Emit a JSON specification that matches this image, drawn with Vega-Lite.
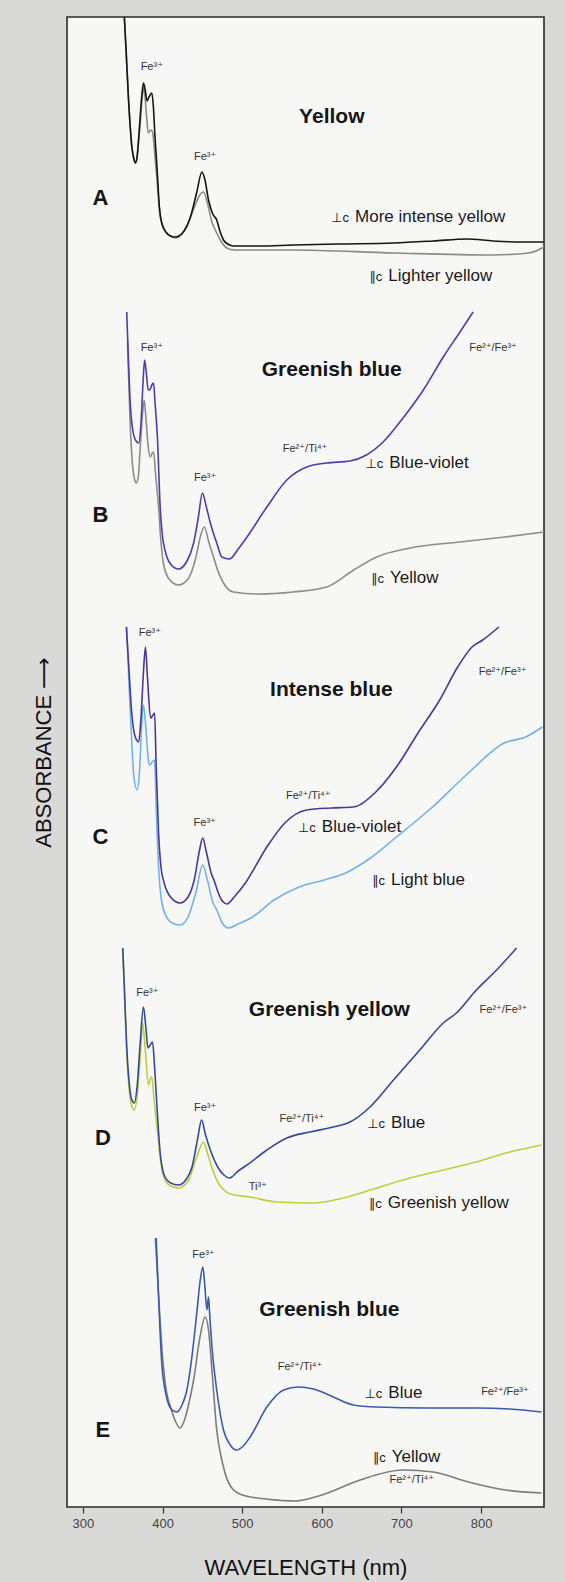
{
  "$schema": "https://vega.github.io/schema/vega-lite/v6.json",
  "width": 477,
  "height": 1490,
  "autosize": {"type": "none"},
  "padding": {"left": 67, "top": 17, "right": 21, "bottom": 75},
  "background": "#d9d9d7",
  "config": {
    "view": {"fill": "#f7f7f5", "stroke": "#2a2a2a", "strokeWidth": 1.6},
    "font": "Liberation Sans, DejaVu Sans, sans-serif"
  },
  "datasets": {
    "spectra": [
      {"series": "A-par", "orientation": "par", "wavelength": 352, "absorbance": 1490},
      {"series": "A-par", "orientation": "par", "wavelength": 354, "absorbance": 1460},
      {"series": "A-par", "orientation": "par", "wavelength": 357.3, "absorbance": 1407},
      {"series": "A-par", "orientation": "par", "wavelength": 361.5, "absorbance": 1360},
      {"series": "A-par", "orientation": "par", "wavelength": 364, "absorbance": 1348},
      {"series": "A-par", "orientation": "par", "wavelength": 366, "absorbance": 1344},
      {"series": "A-par", "orientation": "par", "wavelength": 368, "absorbance": 1350},
      {"series": "A-par", "orientation": "par", "wavelength": 371, "absorbance": 1375},
      {"series": "A-par", "orientation": "par", "wavelength": 374, "absorbance": 1405},
      {"series": "A-par", "orientation": "par", "wavelength": 376, "absorbance": 1419},
      {"series": "A-par", "orientation": "par", "wavelength": 378, "absorbance": 1410},
      {"series": "A-par", "orientation": "par", "wavelength": 380, "absorbance": 1390},
      {"series": "A-par", "orientation": "par", "wavelength": 382, "absorbance": 1374},
      {"series": "A-par", "orientation": "par", "wavelength": 385, "absorbance": 1377},
      {"series": "A-par", "orientation": "par", "wavelength": 387.4, "absorbance": 1375},
      {"series": "A-par", "orientation": "par", "wavelength": 390, "absorbance": 1355},
      {"series": "A-par", "orientation": "par", "wavelength": 393.7, "absorbance": 1320},
      {"series": "A-par", "orientation": "par", "wavelength": 397, "absorbance": 1290},
      {"series": "A-par", "orientation": "par", "wavelength": 402, "absorbance": 1278},
      {"series": "A-par", "orientation": "par", "wavelength": 408, "absorbance": 1272},
      {"series": "A-par", "orientation": "par", "wavelength": 416, "absorbance": 1269},
      {"series": "A-par", "orientation": "par", "wavelength": 430, "absorbance": 1280},
      {"series": "A-par", "orientation": "par", "wavelength": 440, "absorbance": 1300},
      {"series": "A-par", "orientation": "par", "wavelength": 446, "absorbance": 1311},
      {"series": "A-par", "orientation": "par", "wavelength": 451.4, "absorbance": 1315},
      {"series": "A-par", "orientation": "par", "wavelength": 456, "absorbance": 1305},
      {"series": "A-par", "orientation": "par", "wavelength": 462, "absorbance": 1285},
      {"series": "A-par", "orientation": "par", "wavelength": 468, "absorbance": 1274},
      {"series": "A-par", "orientation": "par", "wavelength": 474, "absorbance": 1265},
      {"series": "A-par", "orientation": "par", "wavelength": 480.7, "absorbance": 1259},
      {"series": "A-par", "orientation": "par", "wavelength": 490, "absorbance": 1257},
      {"series": "A-par", "orientation": "par", "wavelength": 564, "absorbance": 1257},
      {"series": "A-par", "orientation": "par", "wavelength": 690, "absorbance": 1254},
      {"series": "A-par", "orientation": "par", "wavelength": 815, "absorbance": 1252},
      {"series": "A-par", "orientation": "par", "wavelength": 860, "absorbance": 1254},
      {"series": "A-par", "orientation": "par", "wavelength": 879, "absorbance": 1260},

      {"series": "A-perp", "orientation": "perp", "wavelength": 352, "absorbance": 1490},
      {"series": "A-perp", "orientation": "perp", "wavelength": 354, "absorbance": 1460},
      {"series": "A-perp", "orientation": "perp", "wavelength": 357.3, "absorbance": 1407},
      {"series": "A-perp", "orientation": "perp", "wavelength": 361.5, "absorbance": 1360},
      {"series": "A-perp", "orientation": "perp", "wavelength": 364, "absorbance": 1348},
      {"series": "A-perp", "orientation": "perp", "wavelength": 366, "absorbance": 1344},
      {"series": "A-perp", "orientation": "perp", "wavelength": 368, "absorbance": 1350},
      {"series": "A-perp", "orientation": "perp", "wavelength": 371, "absorbance": 1380},
      {"series": "A-perp", "orientation": "perp", "wavelength": 374, "absorbance": 1412},
      {"series": "A-perp", "orientation": "perp", "wavelength": 376, "absorbance": 1424},
      {"series": "A-perp", "orientation": "perp", "wavelength": 378, "absorbance": 1418},
      {"series": "A-perp", "orientation": "perp", "wavelength": 380.5, "absorbance": 1406},
      {"series": "A-perp", "orientation": "perp", "wavelength": 383, "absorbance": 1410},
      {"series": "A-perp", "orientation": "perp", "wavelength": 386.5, "absorbance": 1414},
      {"series": "A-perp", "orientation": "perp", "wavelength": 388.5, "absorbance": 1400},
      {"series": "A-perp", "orientation": "perp", "wavelength": 390.5, "absorbance": 1370},
      {"series": "A-perp", "orientation": "perp", "wavelength": 393, "absorbance": 1340},
      {"series": "A-perp", "orientation": "perp", "wavelength": 396, "absorbance": 1300},
      {"series": "A-perp", "orientation": "perp", "wavelength": 399, "absorbance": 1284},
      {"series": "A-perp", "orientation": "perp", "wavelength": 404, "absorbance": 1275},
      {"series": "A-perp", "orientation": "perp", "wavelength": 410, "absorbance": 1271},
      {"series": "A-perp", "orientation": "perp", "wavelength": 416, "absorbance": 1270},
      {"series": "A-perp", "orientation": "perp", "wavelength": 425, "absorbance": 1274},
      {"series": "A-perp", "orientation": "perp", "wavelength": 435, "absorbance": 1290},
      {"series": "A-perp", "orientation": "perp", "wavelength": 443, "absorbance": 1315},
      {"series": "A-perp", "orientation": "perp", "wavelength": 449.4, "absorbance": 1335},
      {"series": "A-perp", "orientation": "perp", "wavelength": 453, "absorbance": 1328},
      {"series": "A-perp", "orientation": "perp", "wavelength": 457.7, "absorbance": 1307},
      {"series": "A-perp", "orientation": "perp", "wavelength": 463, "absorbance": 1293},
      {"series": "A-perp", "orientation": "perp", "wavelength": 468, "absorbance": 1287},
      {"series": "A-perp", "orientation": "perp", "wavelength": 472, "absorbance": 1276},
      {"series": "A-perp", "orientation": "perp", "wavelength": 476.5, "absorbance": 1267},
      {"series": "A-perp", "orientation": "perp", "wavelength": 482, "absorbance": 1263},
      {"series": "A-perp", "orientation": "perp", "wavelength": 489, "absorbance": 1261},
      {"series": "A-perp", "orientation": "perp", "wavelength": 520, "absorbance": 1261},
      {"series": "A-perp", "orientation": "perp", "wavelength": 564, "absorbance": 1262},
      {"series": "A-perp", "orientation": "perp", "wavelength": 620, "absorbance": 1263},
      {"series": "A-perp", "orientation": "perp", "wavelength": 690, "absorbance": 1264},
      {"series": "A-perp", "orientation": "perp", "wavelength": 740, "absorbance": 1266},
      {"series": "A-perp", "orientation": "perp", "wavelength": 782, "absorbance": 1268},
      {"series": "A-perp", "orientation": "perp", "wavelength": 815, "absorbance": 1266},
      {"series": "A-perp", "orientation": "perp", "wavelength": 850, "absorbance": 1265},
      {"series": "A-perp", "orientation": "perp", "wavelength": 879, "absorbance": 1265},

      {"series": "B-par", "orientation": "par", "wavelength": 356, "absorbance": 1165},
      {"series": "B-par", "orientation": "par", "wavelength": 359, "absorbance": 1090},
      {"series": "B-par", "orientation": "par", "wavelength": 362, "absorbance": 1045},
      {"series": "B-par", "orientation": "par", "wavelength": 365, "absorbance": 1027},
      {"series": "B-par", "orientation": "par", "wavelength": 367, "absorbance": 1024},
      {"series": "B-par", "orientation": "par", "wavelength": 369.5, "absorbance": 1030},
      {"series": "B-par", "orientation": "par", "wavelength": 372, "absorbance": 1060},
      {"series": "B-par", "orientation": "par", "wavelength": 375, "absorbance": 1095},
      {"series": "B-par", "orientation": "par", "wavelength": 377, "absorbance": 1107},
      {"series": "B-par", "orientation": "par", "wavelength": 379, "absorbance": 1090},
      {"series": "B-par", "orientation": "par", "wavelength": 382, "absorbance": 1060},
      {"series": "B-par", "orientation": "par", "wavelength": 384.5, "absorbance": 1050},
      {"series": "B-par", "orientation": "par", "wavelength": 387, "absorbance": 1054},
      {"series": "B-par", "orientation": "par", "wavelength": 388.7, "absorbance": 1055},
      {"series": "B-par", "orientation": "par", "wavelength": 391, "absorbance": 1035},
      {"series": "B-par", "orientation": "par", "wavelength": 395, "absorbance": 1000},
      {"series": "B-par", "orientation": "par", "wavelength": 398, "absorbance": 965},
      {"series": "B-par", "orientation": "par", "wavelength": 401, "absorbance": 944},
      {"series": "B-par", "orientation": "par", "wavelength": 408, "absorbance": 928},
      {"series": "B-par", "orientation": "par", "wavelength": 420, "absorbance": 922},
      {"series": "B-par", "orientation": "par", "wavelength": 432, "absorbance": 928},
      {"series": "B-par", "orientation": "par", "wavelength": 442, "absorbance": 950},
      {"series": "B-par", "orientation": "par", "wavelength": 448, "absorbance": 972},
      {"series": "B-par", "orientation": "par", "wavelength": 452.6, "absorbance": 980},
      {"series": "B-par", "orientation": "par", "wavelength": 458, "absorbance": 965},
      {"series": "B-par", "orientation": "par", "wavelength": 464, "absorbance": 950},
      {"series": "B-par", "orientation": "par", "wavelength": 470, "absorbance": 935},
      {"series": "B-par", "orientation": "par", "wavelength": 476.5, "absorbance": 924},
      {"series": "B-par", "orientation": "par", "wavelength": 489, "absorbance": 915},
      {"series": "B-par", "orientation": "par", "wavelength": 520, "absorbance": 913},
      {"series": "B-par", "orientation": "par", "wavelength": 564, "absorbance": 915},
      {"series": "B-par", "orientation": "par", "wavelength": 606, "absorbance": 920},
      {"series": "B-par", "orientation": "par", "wavelength": 640, "absorbance": 937},
      {"series": "B-par", "orientation": "par", "wavelength": 669, "absorbance": 950},
      {"series": "B-par", "orientation": "par", "wavelength": 711, "absorbance": 959},
      {"series": "B-par", "orientation": "par", "wavelength": 773.5, "absorbance": 965},
      {"series": "B-par", "orientation": "par", "wavelength": 830, "absorbance": 970},
      {"series": "B-par", "orientation": "par", "wavelength": 879, "absorbance": 975},

      {"series": "B-perp", "orientation": "perp", "wavelength": 355, "absorbance": 1195},
      {"series": "B-perp", "orientation": "perp", "wavelength": 357, "absorbance": 1150},
      {"series": "B-perp", "orientation": "perp", "wavelength": 359, "absorbance": 1110},
      {"series": "B-perp", "orientation": "perp", "wavelength": 362, "absorbance": 1080},
      {"series": "B-perp", "orientation": "perp", "wavelength": 366, "absorbance": 1067},
      {"series": "B-perp", "orientation": "perp", "wavelength": 370, "absorbance": 1064},
      {"series": "B-perp", "orientation": "perp", "wavelength": 373, "absorbance": 1085},
      {"series": "B-perp", "orientation": "perp", "wavelength": 375.5, "absorbance": 1125},
      {"series": "B-perp", "orientation": "perp", "wavelength": 377.4, "absorbance": 1147},
      {"series": "B-perp", "orientation": "perp", "wavelength": 379.5, "absorbance": 1135},
      {"series": "B-perp", "orientation": "perp", "wavelength": 382, "absorbance": 1117},
      {"series": "B-perp", "orientation": "perp", "wavelength": 384, "absorbance": 1117},
      {"series": "B-perp", "orientation": "perp", "wavelength": 386.5, "absorbance": 1122},
      {"series": "B-perp", "orientation": "perp", "wavelength": 388.7, "absorbance": 1124},
      {"series": "B-perp", "orientation": "perp", "wavelength": 390.5, "absorbance": 1105},
      {"series": "B-perp", "orientation": "perp", "wavelength": 393.7, "absorbance": 1067},
      {"series": "B-perp", "orientation": "perp", "wavelength": 397, "absorbance": 1000},
      {"series": "B-perp", "orientation": "perp", "wavelength": 400, "absorbance": 970},
      {"series": "B-perp", "orientation": "perp", "wavelength": 403, "absorbance": 957},
      {"series": "B-perp", "orientation": "perp", "wavelength": 410, "absorbance": 943},
      {"series": "B-perp", "orientation": "perp", "wavelength": 420, "absorbance": 938},
      {"series": "B-perp", "orientation": "perp", "wavelength": 430, "absorbance": 945},
      {"series": "B-perp", "orientation": "perp", "wavelength": 439, "absorbance": 964},
      {"series": "B-perp", "orientation": "perp", "wavelength": 445, "absorbance": 990},
      {"series": "B-perp", "orientation": "perp", "wavelength": 450, "absorbance": 1014},
      {"series": "B-perp", "orientation": "perp", "wavelength": 455, "absorbance": 1000},
      {"series": "B-perp", "orientation": "perp", "wavelength": 460, "absorbance": 984},
      {"series": "B-perp", "orientation": "perp", "wavelength": 468, "absorbance": 964},
      {"series": "B-perp", "orientation": "perp", "wavelength": 474.5, "absorbance": 950},
      {"series": "B-perp", "orientation": "perp", "wavelength": 484, "absorbance": 948},
      {"series": "B-perp", "orientation": "perp", "wavelength": 495, "absorbance": 958},
      {"series": "B-perp", "orientation": "perp", "wavelength": 506, "absorbance": 970},
      {"series": "B-perp", "orientation": "perp", "wavelength": 531, "absorbance": 1000},
      {"series": "B-perp", "orientation": "perp", "wavelength": 556, "absorbance": 1027},
      {"series": "B-perp", "orientation": "perp", "wavelength": 581, "absorbance": 1040},
      {"series": "B-perp", "orientation": "perp", "wavelength": 606, "absorbance": 1044},
      {"series": "B-perp", "orientation": "perp", "wavelength": 635.5, "absorbance": 1046},
      {"series": "B-perp", "orientation": "perp", "wavelength": 656, "absorbance": 1052},
      {"series": "B-perp", "orientation": "perp", "wavelength": 677, "absorbance": 1065},
      {"series": "B-perp", "orientation": "perp", "wavelength": 702, "absorbance": 1089},
      {"series": "B-perp", "orientation": "perp", "wavelength": 727.5, "absorbance": 1117},
      {"series": "B-perp", "orientation": "perp", "wavelength": 752.5, "absorbance": 1150},
      {"series": "B-perp", "orientation": "perp", "wavelength": 773.5, "absorbance": 1175},
      {"series": "B-perp", "orientation": "perp", "wavelength": 790, "absorbance": 1195},

      {"series": "C-par", "orientation": "par", "wavelength": 355, "absorbance": 880},
      {"series": "C-par", "orientation": "par", "wavelength": 358, "absorbance": 820},
      {"series": "C-par", "orientation": "par", "wavelength": 361, "absorbance": 770},
      {"series": "C-par", "orientation": "par", "wavelength": 364, "absorbance": 730},
      {"series": "C-par", "orientation": "par", "wavelength": 368, "absorbance": 717},
      {"series": "C-par", "orientation": "par", "wavelength": 371, "absorbance": 735},
      {"series": "C-par", "orientation": "par", "wavelength": 374, "absorbance": 785},
      {"series": "C-par", "orientation": "par", "wavelength": 376, "absorbance": 802},
      {"series": "C-par", "orientation": "par", "wavelength": 379, "absorbance": 780},
      {"series": "C-par", "orientation": "par", "wavelength": 382, "absorbance": 748},
      {"series": "C-par", "orientation": "par", "wavelength": 384, "absorbance": 742},
      {"series": "C-par", "orientation": "par", "wavelength": 387, "absorbance": 745},
      {"series": "C-par", "orientation": "par", "wavelength": 390, "absorbance": 747},
      {"series": "C-par", "orientation": "par", "wavelength": 392, "absorbance": 700},
      {"series": "C-par", "orientation": "par", "wavelength": 395, "absorbance": 640},
      {"series": "C-par", "orientation": "par", "wavelength": 399, "absorbance": 605},
      {"series": "C-par", "orientation": "par", "wavelength": 405, "absorbance": 590},
      {"series": "C-par", "orientation": "par", "wavelength": 412, "absorbance": 584},
      {"series": "C-par", "orientation": "par", "wavelength": 422, "absorbance": 582},
      {"series": "C-par", "orientation": "par", "wavelength": 432, "absorbance": 590},
      {"series": "C-par", "orientation": "par", "wavelength": 442, "absorbance": 615},
      {"series": "C-par", "orientation": "par", "wavelength": 450.4, "absorbance": 642},
      {"series": "C-par", "orientation": "par", "wavelength": 456, "absorbance": 628},
      {"series": "C-par", "orientation": "par", "wavelength": 463, "absorbance": 605},
      {"series": "C-par", "orientation": "par", "wavelength": 468, "absorbance": 597},
      {"series": "C-par", "orientation": "par", "wavelength": 475, "absorbance": 584},
      {"series": "C-par", "orientation": "par", "wavelength": 483, "absorbance": 579},
      {"series": "C-par", "orientation": "par", "wavelength": 495, "absorbance": 583},
      {"series": "C-par", "orientation": "par", "wavelength": 513, "absorbance": 590},
      {"series": "C-par", "orientation": "par", "wavelength": 540, "absorbance": 607},
      {"series": "C-par", "orientation": "par", "wavelength": 571.5, "absorbance": 620},
      {"series": "C-par", "orientation": "par", "wavelength": 603, "absorbance": 627},
      {"series": "C-par", "orientation": "par", "wavelength": 630, "absorbance": 634},
      {"series": "C-par", "orientation": "par", "wavelength": 657.5, "absorbance": 647},
      {"series": "C-par", "orientation": "par", "wavelength": 693.7, "absorbance": 670},
      {"series": "C-par", "orientation": "par", "wavelength": 739, "absorbance": 700},
      {"series": "C-par", "orientation": "par", "wavelength": 784, "absorbance": 734},
      {"series": "C-par", "orientation": "par", "wavelength": 829, "absorbance": 764},
      {"series": "C-par", "orientation": "par", "wavelength": 856, "absorbance": 770},
      {"series": "C-par", "orientation": "par", "wavelength": 877, "absorbance": 780},

      {"series": "C-perp", "orientation": "perp", "wavelength": 354.5, "absorbance": 880},
      {"series": "C-perp", "orientation": "perp", "wavelength": 358, "absorbance": 835},
      {"series": "C-perp", "orientation": "perp", "wavelength": 361, "absorbance": 797},
      {"series": "C-perp", "orientation": "perp", "wavelength": 365, "absorbance": 772},
      {"series": "C-perp", "orientation": "perp", "wavelength": 370, "absorbance": 765},
      {"series": "C-perp", "orientation": "perp", "wavelength": 373, "absorbance": 790},
      {"series": "C-perp", "orientation": "perp", "wavelength": 376, "absorbance": 835},
      {"series": "C-perp", "orientation": "perp", "wavelength": 378.5, "absorbance": 860},
      {"series": "C-perp", "orientation": "perp", "wavelength": 381, "absorbance": 830},
      {"series": "C-perp", "orientation": "perp", "wavelength": 385, "absorbance": 789},
      {"series": "C-perp", "orientation": "perp", "wavelength": 388, "absorbance": 792},
      {"series": "C-perp", "orientation": "perp", "wavelength": 390, "absorbance": 794},
      {"series": "C-perp", "orientation": "perp", "wavelength": 392, "absorbance": 740},
      {"series": "C-perp", "orientation": "perp", "wavelength": 395, "absorbance": 674},
      {"series": "C-perp", "orientation": "perp", "wavelength": 398, "absorbance": 640},
      {"series": "C-perp", "orientation": "perp", "wavelength": 402, "absorbance": 624},
      {"series": "C-perp", "orientation": "perp", "wavelength": 410, "absorbance": 610},
      {"series": "C-perp", "orientation": "perp", "wavelength": 422, "absorbance": 604},
      {"series": "C-perp", "orientation": "perp", "wavelength": 432, "absorbance": 610},
      {"series": "C-perp", "orientation": "perp", "wavelength": 440, "absorbance": 628},
      {"series": "C-perp", "orientation": "perp", "wavelength": 446, "absorbance": 655},
      {"series": "C-perp", "orientation": "perp", "wavelength": 450.4, "absorbance": 669},
      {"series": "C-perp", "orientation": "perp", "wavelength": 455, "absorbance": 655},
      {"series": "C-perp", "orientation": "perp", "wavelength": 461, "absorbance": 634},
      {"series": "C-perp", "orientation": "perp", "wavelength": 465, "absorbance": 626},
      {"series": "C-perp", "orientation": "perp", "wavelength": 470, "absorbance": 614},
      {"series": "C-perp", "orientation": "perp", "wavelength": 475, "absorbance": 606},
      {"series": "C-perp", "orientation": "perp", "wavelength": 481, "absorbance": 603},
      {"series": "C-perp", "orientation": "perp", "wavelength": 490, "absorbance": 610},
      {"series": "C-perp", "orientation": "perp", "wavelength": 504, "absorbance": 624},
      {"series": "C-perp", "orientation": "perp", "wavelength": 531, "absorbance": 660},
      {"series": "C-perp", "orientation": "perp", "wavelength": 553.5, "absorbance": 684},
      {"series": "C-perp", "orientation": "perp", "wavelength": 580.6, "absorbance": 697},
      {"series": "C-perp", "orientation": "perp", "wavelength": 612, "absorbance": 699},
      {"series": "C-perp", "orientation": "perp", "wavelength": 639.5, "absorbance": 700},
      {"series": "C-perp", "orientation": "perp", "wavelength": 666.5, "absorbance": 714},
      {"series": "C-perp", "orientation": "perp", "wavelength": 693.7, "absorbance": 740},
      {"series": "C-perp", "orientation": "perp", "wavelength": 720.8, "absorbance": 774},
      {"series": "C-perp", "orientation": "perp", "wavelength": 748, "absorbance": 807},
      {"series": "C-perp", "orientation": "perp", "wavelength": 770.6, "absorbance": 840},
      {"series": "C-perp", "orientation": "perp", "wavelength": 788.6, "absorbance": 860},
      {"series": "C-perp", "orientation": "perp", "wavelength": 802, "absorbance": 867},
      {"series": "C-perp", "orientation": "perp", "wavelength": 822.4, "absorbance": 880},

      {"series": "D-par", "orientation": "par", "wavelength": 350, "absorbance": 559},
      {"series": "D-par", "orientation": "par", "wavelength": 352, "absorbance": 520},
      {"series": "D-par", "orientation": "par", "wavelength": 355, "absorbance": 455},
      {"series": "D-par", "orientation": "par", "wavelength": 358, "absorbance": 418},
      {"series": "D-par", "orientation": "par", "wavelength": 361, "absorbance": 402},
      {"series": "D-par", "orientation": "par", "wavelength": 364.5, "absorbance": 397},
      {"series": "D-par", "orientation": "par", "wavelength": 368, "absorbance": 410},
      {"series": "D-par", "orientation": "par", "wavelength": 372, "absorbance": 450},
      {"series": "D-par", "orientation": "par", "wavelength": 375, "absorbance": 484},
      {"series": "D-par", "orientation": "par", "wavelength": 378, "absorbance": 460},
      {"series": "D-par", "orientation": "par", "wavelength": 382.4, "absorbance": 422},
      {"series": "D-par", "orientation": "par", "wavelength": 384.5, "absorbance": 428},
      {"series": "D-par", "orientation": "par", "wavelength": 386.6, "absorbance": 430},
      {"series": "D-par", "orientation": "par", "wavelength": 389, "absorbance": 410},
      {"series": "D-par", "orientation": "par", "wavelength": 393, "absorbance": 380},
      {"series": "D-par", "orientation": "par", "wavelength": 400, "absorbance": 334},
      {"series": "D-par", "orientation": "par", "wavelength": 408, "absorbance": 322},
      {"series": "D-par", "orientation": "par", "wavelength": 420, "absorbance": 319},
      {"series": "D-par", "orientation": "par", "wavelength": 432, "absorbance": 326},
      {"series": "D-par", "orientation": "par", "wavelength": 442, "absorbance": 348},
      {"series": "D-par", "orientation": "par", "wavelength": 451.4, "absorbance": 365},
      {"series": "D-par", "orientation": "par", "wavelength": 456, "absorbance": 355},
      {"series": "D-par", "orientation": "par", "wavelength": 462, "absorbance": 339},
      {"series": "D-par", "orientation": "par", "wavelength": 470, "absorbance": 324},
      {"series": "D-par", "orientation": "par", "wavelength": 477, "absorbance": 317},
      {"series": "D-par", "orientation": "par", "wavelength": 485, "absorbance": 313},
      {"series": "D-par", "orientation": "par", "wavelength": 510, "absorbance": 310},
      {"series": "D-par", "orientation": "par", "wavelength": 543.5, "absorbance": 305},
      {"series": "D-par", "orientation": "par", "wavelength": 589.5, "absorbance": 304},
      {"series": "D-par", "orientation": "par", "wavelength": 627, "absorbance": 309},
      {"series": "D-par", "orientation": "par", "wavelength": 669, "absorbance": 319},
      {"series": "D-par", "orientation": "par", "wavelength": 710.7, "absorbance": 329},
      {"series": "D-par", "orientation": "par", "wavelength": 752.5, "absorbance": 337},
      {"series": "D-par", "orientation": "par", "wavelength": 794, "absorbance": 345},
      {"series": "D-par", "orientation": "par", "wavelength": 836, "absorbance": 355},
      {"series": "D-par", "orientation": "par", "wavelength": 876, "absorbance": 362},

      {"series": "D-perp", "orientation": "perp", "wavelength": 350, "absorbance": 559},
      {"series": "D-perp", "orientation": "perp", "wavelength": 352, "absorbance": 520},
      {"series": "D-perp", "orientation": "perp", "wavelength": 355, "absorbance": 460},
      {"series": "D-perp", "orientation": "perp", "wavelength": 358, "absorbance": 425},
      {"series": "D-perp", "orientation": "perp", "wavelength": 361, "absorbance": 408},
      {"series": "D-perp", "orientation": "perp", "wavelength": 364.5, "absorbance": 404},
      {"series": "D-perp", "orientation": "perp", "wavelength": 368, "absorbance": 420},
      {"series": "D-perp", "orientation": "perp", "wavelength": 372, "absorbance": 465},
      {"series": "D-perp", "orientation": "perp", "wavelength": 376, "absorbance": 500},
      {"series": "D-perp", "orientation": "perp", "wavelength": 379, "absorbance": 480},
      {"series": "D-perp", "orientation": "perp", "wavelength": 381.6, "absorbance": 459},
      {"series": "D-perp", "orientation": "perp", "wavelength": 384.5, "absorbance": 462},
      {"series": "D-perp", "orientation": "perp", "wavelength": 387.4, "absorbance": 465},
      {"series": "D-perp", "orientation": "perp", "wavelength": 390, "absorbance": 440},
      {"series": "D-perp", "orientation": "perp", "wavelength": 393, "absorbance": 400},
      {"series": "D-perp", "orientation": "perp", "wavelength": 397, "absorbance": 354},
      {"series": "D-perp", "orientation": "perp", "wavelength": 403, "absorbance": 330},
      {"series": "D-perp", "orientation": "perp", "wavelength": 410, "absorbance": 324},
      {"series": "D-perp", "orientation": "perp", "wavelength": 420, "absorbance": 322},
      {"series": "D-perp", "orientation": "perp", "wavelength": 430, "absorbance": 328},
      {"series": "D-perp", "orientation": "perp", "wavelength": 437, "absorbance": 340},
      {"series": "D-perp", "orientation": "perp", "wavelength": 444, "absorbance": 368},
      {"series": "D-perp", "orientation": "perp", "wavelength": 449, "absorbance": 387},
      {"series": "D-perp", "orientation": "perp", "wavelength": 454, "absorbance": 372},
      {"series": "D-perp", "orientation": "perp", "wavelength": 460, "absorbance": 357},
      {"series": "D-perp", "orientation": "perp", "wavelength": 470, "absorbance": 339},
      {"series": "D-perp", "orientation": "perp", "wavelength": 477, "absorbance": 332},
      {"series": "D-perp", "orientation": "perp", "wavelength": 484, "absorbance": 329},
      {"series": "D-perp", "orientation": "perp", "wavelength": 495, "absorbance": 336},
      {"series": "D-perp", "orientation": "perp", "wavelength": 506, "absorbance": 342},
      {"series": "D-perp", "orientation": "perp", "wavelength": 531, "absorbance": 357},
      {"series": "D-perp", "orientation": "perp", "wavelength": 556, "absorbance": 369},
      {"series": "D-perp", "orientation": "perp", "wavelength": 585, "absorbance": 375},
      {"series": "D-perp", "orientation": "perp", "wavelength": 614.5, "absorbance": 380},
      {"series": "D-perp", "orientation": "perp", "wavelength": 635.5, "absorbance": 385},
      {"series": "D-perp", "orientation": "perp", "wavelength": 660.5, "absorbance": 400},
      {"series": "D-perp", "orientation": "perp", "wavelength": 690, "absorbance": 427},
      {"series": "D-perp", "orientation": "perp", "wavelength": 723, "absorbance": 457},
      {"series": "D-perp", "orientation": "perp", "wavelength": 752.5, "absorbance": 484},
      {"series": "D-perp", "orientation": "perp", "wavelength": 769, "absorbance": 494},
      {"series": "D-perp", "orientation": "perp", "wavelength": 794, "absorbance": 517},
      {"series": "D-perp", "orientation": "perp", "wavelength": 819.5, "absorbance": 537},
      {"series": "D-perp", "orientation": "perp", "wavelength": 844.6, "absorbance": 559},

      {"series": "E-par", "orientation": "par", "wavelength": 391, "absorbance": 269},
      {"series": "E-par", "orientation": "par", "wavelength": 395, "absorbance": 212},
      {"series": "E-par", "orientation": "par", "wavelength": 400, "absorbance": 150},
      {"series": "E-par", "orientation": "par", "wavelength": 405, "absorbance": 115},
      {"series": "E-par", "orientation": "par", "wavelength": 410, "absorbance": 100},
      {"series": "E-par", "orientation": "par", "wavelength": 416, "absorbance": 86},
      {"series": "E-par", "orientation": "par", "wavelength": 422, "absorbance": 79},
      {"series": "E-par", "orientation": "par", "wavelength": 428, "absorbance": 88},
      {"series": "E-par", "orientation": "par", "wavelength": 432, "absorbance": 100},
      {"series": "E-par", "orientation": "par", "wavelength": 439, "absorbance": 127},
      {"series": "E-par", "orientation": "par", "wavelength": 447, "absorbance": 170},
      {"series": "E-par", "orientation": "par", "wavelength": 453.5, "absorbance": 190},
      {"series": "E-par", "orientation": "par", "wavelength": 458, "absorbance": 175},
      {"series": "E-par", "orientation": "par", "wavelength": 462, "absorbance": 137},
      {"series": "E-par", "orientation": "par", "wavelength": 468, "absorbance": 77},
      {"series": "E-par", "orientation": "par", "wavelength": 475, "absorbance": 45},
      {"series": "E-par", "orientation": "par", "wavelength": 480, "absorbance": 30},
      {"series": "E-par", "orientation": "par", "wavelength": 486, "absorbance": 20},
      {"series": "E-par", "orientation": "par", "wavelength": 500, "absorbance": 12},
      {"series": "E-par", "orientation": "par", "wavelength": 530, "absorbance": 8},
      {"series": "E-par", "orientation": "par", "wavelength": 567, "absorbance": 6},
      {"series": "E-par", "orientation": "par", "wavelength": 600, "absorbance": 12},
      {"series": "E-par", "orientation": "par", "wavelength": 648, "absorbance": 27},
      {"series": "E-par", "orientation": "par", "wavelength": 702, "absorbance": 37},
      {"series": "E-par", "orientation": "par", "wavelength": 740, "absorbance": 35},
      {"series": "E-par", "orientation": "par", "wavelength": 784, "absorbance": 25},
      {"series": "E-par", "orientation": "par", "wavelength": 830, "absorbance": 17},
      {"series": "E-par", "orientation": "par", "wavelength": 876, "absorbance": 14},

      {"series": "E-perp", "orientation": "perp", "wavelength": 392, "absorbance": 269},
      {"series": "E-perp", "orientation": "perp", "wavelength": 395, "absorbance": 210},
      {"series": "E-perp", "orientation": "perp", "wavelength": 399, "absorbance": 144},
      {"series": "E-perp", "orientation": "perp", "wavelength": 405, "absorbance": 110},
      {"series": "E-perp", "orientation": "perp", "wavelength": 412, "absorbance": 97},
      {"series": "E-perp", "orientation": "perp", "wavelength": 418, "absorbance": 95},
      {"series": "E-perp", "orientation": "perp", "wavelength": 425, "absorbance": 103},
      {"series": "E-perp", "orientation": "perp", "wavelength": 430, "absorbance": 115},
      {"series": "E-perp", "orientation": "perp", "wavelength": 434.7, "absorbance": 137},
      {"series": "E-perp", "orientation": "perp", "wavelength": 443, "absorbance": 194},
      {"series": "E-perp", "orientation": "perp", "wavelength": 447, "absorbance": 225},
      {"series": "E-perp", "orientation": "perp", "wavelength": 450.6, "absorbance": 240},
      {"series": "E-perp", "orientation": "perp", "wavelength": 453, "absorbance": 222},
      {"series": "E-perp", "orientation": "perp", "wavelength": 455.7, "absorbance": 197},
      {"series": "E-perp", "orientation": "perp", "wavelength": 457.7, "absorbance": 210},
      {"series": "E-perp", "orientation": "perp", "wavelength": 459, "absorbance": 195},
      {"series": "E-perp", "orientation": "perp", "wavelength": 462, "absorbance": 160},
      {"series": "E-perp", "orientation": "perp", "wavelength": 468, "absorbance": 117},
      {"series": "E-perp", "orientation": "perp", "wavelength": 476.5, "absorbance": 77},
      {"series": "E-perp", "orientation": "perp", "wavelength": 485, "absorbance": 62},
      {"series": "E-perp", "orientation": "perp", "wavelength": 493, "absorbance": 57},
      {"series": "E-perp", "orientation": "perp", "wavelength": 500, "absorbance": 60},
      {"series": "E-perp", "orientation": "perp", "wavelength": 510, "absorbance": 70},
      {"series": "E-perp", "orientation": "perp", "wavelength": 531, "absorbance": 100},
      {"series": "E-perp", "orientation": "perp", "wavelength": 552, "absorbance": 117},
      {"series": "E-perp", "orientation": "perp", "wavelength": 570.6, "absorbance": 120},
      {"series": "E-perp", "orientation": "perp", "wavelength": 589.5, "absorbance": 118},
      {"series": "E-perp", "orientation": "perp", "wavelength": 614.5, "absorbance": 110},
      {"series": "E-perp", "orientation": "perp", "wavelength": 639.6, "absorbance": 102},
      {"series": "E-perp", "orientation": "perp", "wavelength": 669, "absorbance": 100},
      {"series": "E-perp", "orientation": "perp", "wavelength": 731.7, "absorbance": 99},
      {"series": "E-perp", "orientation": "perp", "wavelength": 794, "absorbance": 99},
      {"series": "E-perp", "orientation": "perp", "wavelength": 836, "absorbance": 98},
      {"series": "E-perp", "orientation": "perp", "wavelength": 876, "absorbance": 95}
    ],
    "labels": [
      {"kind": "title", "label": "Yellow", "prefix": "", "wavelength": 612.5, "absorbance": 1390},
      {"kind": "letter", "label": "A", "prefix": "", "wavelength": 322, "absorbance": 1309},
      {"kind": "ion", "label": "Fe³⁺", "prefix": "", "wavelength": 386.5, "absorbance": 1440},
      {"kind": "ion", "label": "Fe³⁺", "prefix": "", "wavelength": 453.5, "absorbance": 1350},
      {"kind": "desc", "label": "More intense yellow", "prefix": "⊥c", "wavelength": 641.7, "absorbance": 1290},
      {"kind": "desc", "label": "Lighter yellow", "prefix": "∥c", "wavelength": 683.5, "absorbance": 1231},

      {"kind": "title", "label": "Greenish blue", "prefix": "", "wavelength": 612.5, "absorbance": 1137},
      {"kind": "letter", "label": "B", "prefix": "", "wavelength": 322, "absorbance": 992},
      {"kind": "ion", "label": "Fe³⁺", "prefix": "", "wavelength": 386.5, "absorbance": 1159},
      {"kind": "ion", "label": "Fe³⁺", "prefix": "", "wavelength": 453.5, "absorbance": 1029},
      {"kind": "ion", "label": "Fe²⁺/Ti⁴⁺", "prefix": "", "wavelength": 579, "absorbance": 1058},
      {"kind": "ion", "label": "Fe²⁺/Fe³⁺", "prefix": "", "wavelength": 815, "absorbance": 1159},
      {"kind": "desc", "label": "Blue-violet", "prefix": "⊥c", "wavelength": 684.8, "absorbance": 1044},
      {"kind": "desc", "label": "Yellow", "prefix": "∥c", "wavelength": 685.6, "absorbance": 929},

      {"kind": "title", "label": "Intense blue", "prefix": "", "wavelength": 612, "absorbance": 817},
      {"kind": "letter", "label": "C", "prefix": "", "wavelength": 322, "absorbance": 670},
      {"kind": "ion", "label": "Fe³⁺", "prefix": "", "wavelength": 384, "absorbance": 874},
      {"kind": "ion", "label": "Fe³⁺", "prefix": "", "wavelength": 453, "absorbance": 684},
      {"kind": "ion", "label": "Fe²⁺/Ti⁴⁺", "prefix": "", "wavelength": 583, "absorbance": 711},
      {"kind": "ion", "label": "Fe²⁺/Fe³⁺", "prefix": "", "wavelength": 827, "absorbance": 835},
      {"kind": "desc", "label": "Blue-violet", "prefix": "⊥c", "wavelength": 600, "absorbance": 680},
      {"kind": "desc", "label": "Light blue", "prefix": "∥c", "wavelength": 687, "absorbance": 627},

      {"kind": "title", "label": "Greenish yellow", "prefix": "", "wavelength": 609.5, "absorbance": 497},
      {"kind": "letter", "label": "D", "prefix": "", "wavelength": 325, "absorbance": 369},
      {"kind": "ion", "label": "Fe³⁺", "prefix": "", "wavelength": 381, "absorbance": 514},
      {"kind": "ion", "label": "Fe³⁺", "prefix": "", "wavelength": 453.5, "absorbance": 399},
      {"kind": "ion", "label": "Fe²⁺/Ti⁴⁺", "prefix": "", "wavelength": 575, "absorbance": 388},
      {"kind": "ion", "label": "Fe²⁺/Fe³⁺", "prefix": "", "wavelength": 828, "absorbance": 497},
      {"kind": "ion", "label": "Ti³⁺", "prefix": "", "wavelength": 519.6, "absorbance": 320},
      {"kind": "desc", "label": "Blue", "prefix": "⊥c", "wavelength": 687, "absorbance": 384},
      {"kind": "desc", "label": "Greenish yellow", "prefix": "∥c", "wavelength": 682.8, "absorbance": 304},

      {"kind": "title", "label": "Greenish blue", "prefix": "", "wavelength": 609.5, "absorbance": 197},
      {"kind": "letter", "label": "E", "prefix": "", "wavelength": 325, "absorbance": 77},
      {"kind": "ion", "label": "Fe³⁺", "prefix": "", "wavelength": 451.4, "absorbance": 252},
      {"kind": "ion", "label": "Fe²⁺/Ti⁴⁺", "prefix": "", "wavelength": 572.7, "absorbance": 140},
      {"kind": "ion", "label": "Fe²⁺/Fe³⁺", "prefix": "", "wavelength": 830, "absorbance": 115},
      {"kind": "ion", "label": "Fe²⁺/Ti⁴⁺", "prefix": "", "wavelength": 713, "absorbance": 27},
      {"kind": "desc", "label": "Blue", "prefix": "⊥c", "wavelength": 683.5, "absorbance": 114},
      {"kind": "desc", "label": "Yellow", "prefix": "∥c", "wavelength": 687.8, "absorbance": 50}
    ]
  },
  "encoding": {
    "x": {
      "field": "wavelength", "type": "quantitative",
      "scale": {"domain": [280, 879], "nice": false, "zero": false},
      "axis": {
        "values": [300, 400, 500, 600, 700, 800],
        "grid": false, "domain": false,
        "tickSize": 6, "tickColor": "#333", "tickWidth": 1.2,
        "labelFontSize": 13, "labelColor": "#444", "labelPadding": 4,
        "title": "WAVELENGTH (nm)", "titleFontSize": 22, "titleFontWeight": "normal",
        "titleColor": "#111", "titleBaseline": "alphabetic", "titleY": 67, "titleAlign": "center"
      }
    },
    "y": {
      "field": "absorbance", "type": "quantitative",
      "scale": {"domain": [0, 1490], "nice": false, "zero": false},
      "axis": {
        "labels": false, "ticks": false, "domain": false, "grid": false,
        "title": "ABSORBANCE ⟶", "titleFontSize": 22, "titleFontWeight": "normal",
        "titleColor": "#111", "titleAngle": -90, "titleX": -17, "titleY": 735,
        "titleAlign": "center", "titleBaseline": "alphabetic"
      }
    }
  },
  "layer": [
    {
      "data": {"name": "spectra"},
      "transform": [{"filter": {"field": "orientation", "equal": "par"}}],
      "mark": {"type": "line", "interpolate": "monotone", "strokeWidth": 1.6, "clip": true},
      "encoding": {
        "detail": {"field": "series"},
        "color": {
          "field": "series", "type": "nominal", "legend": null,
          "scale": {
            "domain": ["A-par", "A-perp", "B-par", "B-perp", "C-par", "C-perp", "D-par", "D-perp", "E-par", "E-perp"],
            "range": ["#8a8a8a", "#151515", "#8c8c8c", "#4a3eb0", "#72b2ea", "#47389a", "#b9d13a", "#35499c", "#7c7c7c", "#3a5ab2"]
          }
        }
      }
    },
    {
      "data": {"name": "spectra"},
      "transform": [{"filter": {"field": "orientation", "equal": "perp"}}],
      "mark": {"type": "line", "interpolate": "monotone", "strokeWidth": 1.6, "clip": true},
      "encoding": {
        "detail": {"field": "series"},
        "color": {"field": "series", "type": "nominal", "legend": null}
      }
    },
    {
      "data": {"name": "labels"},
      "transform": [{"filter": {"field": "kind", "equal": "title"}}],
      "mark": {"type": "text", "fontSize": 21, "fontWeight": "bold", "align": "center", "baseline": "middle", "color": "#151515"},
      "encoding": {"text": {"field": "label"}}
    },
    {
      "data": {"name": "labels"},
      "transform": [{"filter": {"field": "kind", "equal": "letter"}}],
      "mark": {"type": "text", "fontSize": 22, "fontWeight": "bold", "align": "center", "baseline": "middle", "color": "#151515"},
      "encoding": {"text": {"field": "label"}}
    },
    {
      "data": {"name": "labels"},
      "transform": [{"filter": {"field": "kind", "equal": "ion"}}],
      "mark": {"type": "text", "fontSize": 11, "align": "center", "baseline": "middle", "color": "#333"},
      "encoding": {"text": {"field": "label"}}
    },
    {
      "data": {"name": "labels"},
      "transform": [{"filter": {"field": "kind", "equal": "desc"}}],
      "mark": {"type": "text", "fontSize": 17, "align": "left", "baseline": "middle", "color": "#1a1a1a"},
      "encoding": {"text": {"field": "label"}}
    },
    {
      "data": {"name": "labels"},
      "transform": [{"filter": {"field": "kind", "equal": "desc"}}],
      "mark": {"type": "text", "fontSize": 13, "align": "right", "baseline": "middle", "dx": -6, "dy": 1, "color": "#1a1a1a"},
      "encoding": {"text": {"field": "prefix"}}
    }
  ]
}
